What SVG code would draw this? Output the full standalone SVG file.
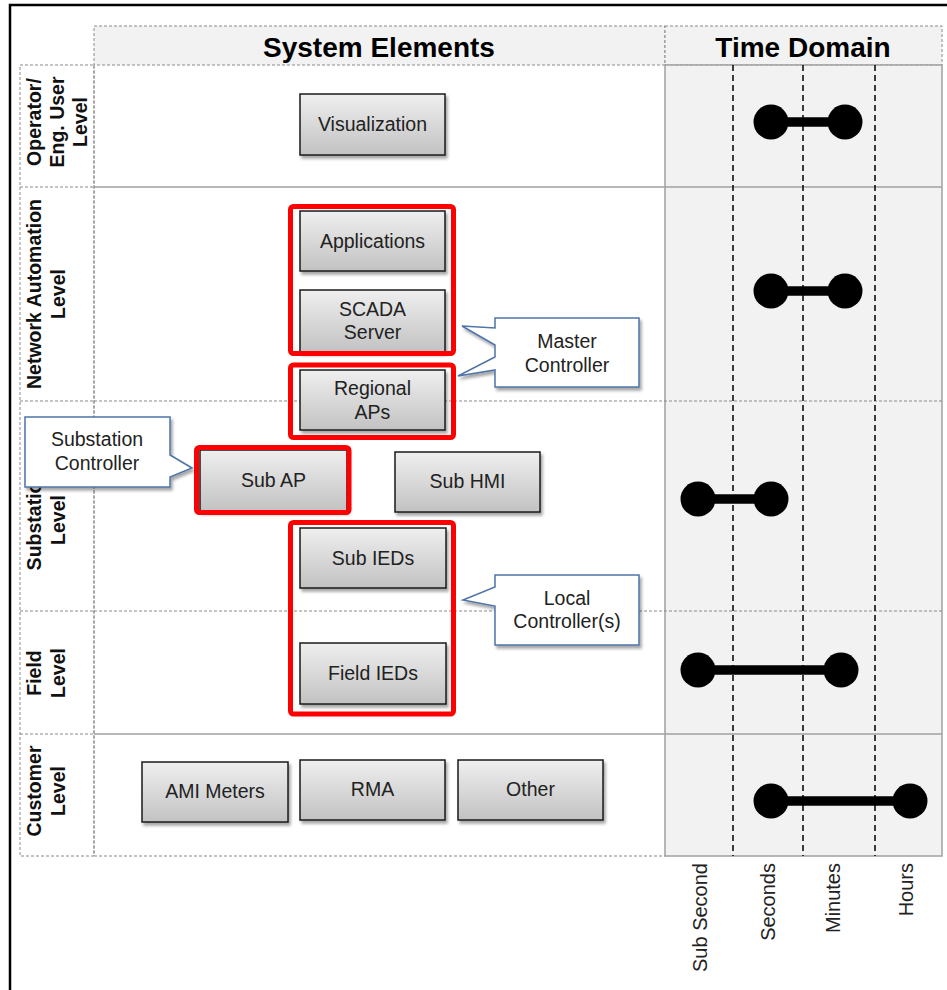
<svg xmlns="http://www.w3.org/2000/svg" width="947" height="990" viewBox="0 0 947 990">
<defs>
  <linearGradient id="boxFill" x1="0" y1="0" x2="0" y2="1">
    <stop offset="0" stop-color="#efefef"/>
    <stop offset="1" stop-color="#c2c2c2"/>
  </linearGradient>
  <filter id="shadow" x="-10%" y="-10%" width="130%" height="140%">
    <feDropShadow dx="2" dy="3" stdDeviation="1.5" flood-color="#000" flood-opacity="0.35"/>
  </filter>
</defs>
<style>
  text{font-family:"Liberation Sans",Arial,sans-serif}
  .frame{fill:none;stroke:#000;stroke-width:2.5}
  .hdr{fill:#f2f2f2;stroke:#8a8a8a;stroke-width:1;stroke-dasharray:3 2}
  .hdrText{font-weight:bold;font-size:28px;fill:#000;text-anchor:middle}
  .cell{fill:none;stroke:#8a8a8a;stroke-width:1;stroke-dasharray:3 2}
  .timeBg{fill:#f2f2f2;stroke:#a0a0a0;stroke-width:1.5}
  .solidSep{stroke:#a0a0a0;stroke-width:1.5}
  .dashSep{stroke:#8a8a8a;stroke-width:1.2;stroke-dasharray:3 2}
  .tick{stroke:#000;stroke-width:1.5;stroke-dasharray:6 4}
  .lvl{font-weight:bold;font-size:19.5px;fill:#111;text-anchor:middle}
  .box rect{fill:url(#boxFill);stroke:#1a1a1a;stroke-width:1.5;filter:url(#shadow)}
  .box text{font-size:19.5px;fill:#222;text-anchor:middle}
  .red{fill:none;stroke:#ff0000;stroke-width:5}
  .callout path{fill:#fff;stroke:#4f74a8;stroke-width:1.5;filter:url(#shadow)}
  .callout text{font-size:19.5px;fill:#222;text-anchor:middle}
  .bar line{stroke:#000;stroke-width:9.5}
  .bar circle{fill:#000}
  .axis{font-size:20px;fill:#222;text-anchor:end}
</style>

<!-- outer frame -->
<path class="frame" d="M10,990 V5 H947"/>

<!-- column headers -->
<g id="header">
  <rect class="hdr" x="94" y="26" width="571" height="39"/>
  <rect class="hdr" x="665" y="26" width="277" height="39"/>
  <text class="hdrText" x="379" y="57">System Elements</text>
  <text class="hdrText" x="803" y="57">Time Domain</text>
</g>

<!-- time domain column background -->
<rect class="timeBg" x="665" y="65" width="277" height="791"/>

<!-- grid -->
<g id="grid">
  <rect class="cell" x="20" y="65" width="74" height="791"/>
  <line class="cell" x1="94" y1="65" x2="94" y2="856"/>
  <line class="dashSep" x1="20" y1="187" x2="94" y2="187"/>
  <line class="dashSep" x1="20" y1="401" x2="94" y2="401"/>
  <line class="dashSep" x1="20" y1="611" x2="94" y2="611"/>
  <line class="dashSep" x1="20" y1="734" x2="94" y2="734"/>
  <line class="solidSep" x1="94" y1="187" x2="942" y2="187"/>
  <line class="dashSep" x1="94" y1="401" x2="942" y2="401"/>
  <line class="dashSep" x1="94" y1="611" x2="942" y2="611"/>
  <line class="solidSep" x1="94" y1="734" x2="942" y2="734"/>
  <line class="dashSep" x1="94" y1="856" x2="665" y2="856"/>
  <line class="tick" x1="733" y1="65" x2="733" y2="856"/>
  <line class="tick" x1="803" y1="65" x2="803" y2="856"/>
  <line class="tick" x1="875" y1="65" x2="875" y2="856"/>
</g>

<!-- level labels -->
<g id="levels">
  <g transform="translate(0,122) rotate(-90)">
    <text class="lvl" x="0" y="41">Operator/</text>
    <text class="lvl" x="0" y="64">Eng. User</text>
    <text class="lvl" x="0" y="87">Level</text>
  </g>
  <g transform="translate(0,294) rotate(-90)">
    <text class="lvl" x="0" y="41">Network Automation</text>
    <text class="lvl" x="0" y="65">Level</text>
  </g>
  <g transform="translate(0,520) rotate(-90)">
    <text class="lvl" x="0" y="41">Substation</text>
    <text class="lvl" x="0" y="65">Level</text>
  </g>
  <g transform="translate(0,673) rotate(-90)">
    <text class="lvl" x="0" y="41">Field</text>
    <text class="lvl" x="0" y="65">Level</text>
  </g>
  <g transform="translate(0,791) rotate(-90)">
    <text class="lvl" x="0" y="41">Customer</text>
    <text class="lvl" x="0" y="65">Level</text>
  </g>
</g>

<!-- system element nodes -->
<g id="visualization" class="box"><rect x="300" y="94" width="145" height="61"/><text x="372.5" y="131">Visualization</text></g>
<g id="applications" class="box"><rect x="300" y="211" width="145" height="60"/><text x="372.5" y="248">Applications</text></g>
<g id="scada" class="box"><rect x="300" y="290" width="145" height="62"/><text x="372.5" y="316">SCADA</text><text x="372.5" y="339">Server</text></g>
<g id="regional-aps" class="box"><rect x="300" y="370" width="145" height="60"/><text x="372.5" y="395">Regional</text><text x="372.5" y="419">APs</text></g>
<g id="sub-ap" class="box"><rect x="200" y="450" width="147" height="61"/><text x="273.5" y="487">Sub AP</text></g>
<g id="sub-hmi" class="box"><rect x="395" y="452" width="145" height="60"/><text x="467.5" y="488">Sub HMI</text></g>
<g id="sub-ieds" class="box"><rect x="300" y="528" width="146" height="60"/><text x="373" y="565">Sub IEDs</text></g>
<g id="field-ieds" class="box"><rect x="300" y="643" width="146" height="61"/><text x="373" y="680">Field IEDs</text></g>
<g id="ami-meters" class="box"><rect x="142" y="762" width="146" height="60"/><text x="215" y="798">AMI Meters</text></g>
<g id="rma" class="box"><rect x="300" y="760" width="145" height="60"/><text x="372.5" y="796">RMA</text></g>
<g id="other" class="box"><rect x="458" y="760" width="145" height="60"/><text x="530.5" y="796">Other</text></g>

<!-- controller groupings -->
<g id="groups">
  <rect class="red" x="290.5" y="206.5" width="163" height="147" rx="3"/>
  <rect class="red" x="290.5" y="365" width="163" height="72.5" rx="3"/>
  <rect class="red" x="196.5" y="447.5" width="152.5" height="65" rx="3"/>
  <rect class="red" x="290.5" y="522.5" width="163" height="191.5" rx="3"/>
</g>

<!-- callouts -->
<g id="master-controller" class="callout">
  <path d="M495,318 H639 V387 H495 V370 L458,376 L495,357 V345 L462,326 L495,328 Z"/>
  <text x="567" y="348">Master</text>
  <text x="567" y="372">Controller</text>
</g>
<g id="substation-controller" class="callout">
  <path d="M25,417 H170 V455 L192,468 L170,477 V487 H25 Z"/>
  <text x="97" y="446">Substation</text>
  <text x="97" y="470">Controller</text>
</g>
<g id="local-controller" class="callout">
  <path d="M495,575 H639 V645 H495 V606 L463,600 L495,587 Z"/>
  <text x="567" y="605">Local</text>
  <text x="567" y="628">Controller(s)</text>
</g>

<!-- time domain ranges -->
<g id="time-ranges">
  <g class="bar"><line x1="771" y1="122" x2="845" y2="122"/><circle cx="771" cy="122" r="17.5"/><circle cx="845" cy="122" r="17.5"/></g>
  <g class="bar"><line x1="771" y1="291" x2="845" y2="291"/><circle cx="771" cy="291" r="17.5"/><circle cx="845" cy="291" r="17.5"/></g>
  <g class="bar"><line x1="698" y1="499" x2="771" y2="499"/><circle cx="698" cy="499" r="17.5"/><circle cx="771" cy="499" r="17.5"/></g>
  <g class="bar"><line x1="698" y1="670" x2="841" y2="670"/><circle cx="698" cy="670" r="17.5"/><circle cx="841" cy="670" r="17.5"/></g>
  <g class="bar"><line x1="771" y1="801" x2="910" y2="801"/><circle cx="771" cy="801" r="17.5"/><circle cx="910" cy="801" r="17.5"/></g>
</g>

<!-- time scale labels -->
<g id="time-scale">
  <text class="axis" transform="translate(707,863) rotate(-90)">Sub Second</text>
  <text class="axis" transform="translate(775,863) rotate(-90)">Seconds</text>
  <text class="axis" transform="translate(840,863) rotate(-90)">Minutes</text>
  <text class="axis" transform="translate(913,863) rotate(-90)">Hours</text>
</g>
</svg>
